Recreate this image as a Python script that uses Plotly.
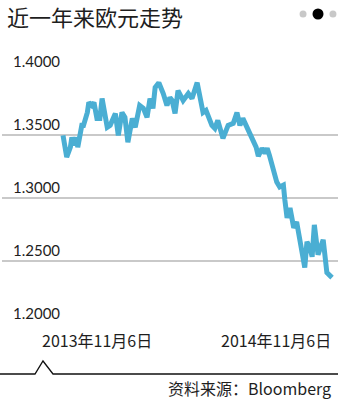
import pandas as pd
import plotly.graph_objects as go

# ---- data ----
start_date = "2013-11-06"
day_offsets = [0, 5, 10, 12, 15, 18, 20, 26, 27, 33, 35, 39, 42, 46, 50, 53, 60, 64, 71, 75,
               80, 84, 88, 94, 98, 104, 109, 114, 118, 122, 125, 130, 136, 141, 145, 148, 152,
               156, 163, 170, 175, 182, 190, 194, 202, 206, 210, 213, 217, 224, 231, 236, 240,
               244, 254, 262, 265, 270, 274, 277, 280, 285, 290, 294, 299, 301, 304, 308, 313,
               317, 324, 328, 331, 335, 338, 341, 346, 353, 358, 365]
eur_usd = [1.3496, 1.3323, 1.3402, 1.3480, 1.3417, 1.3480, 1.3402, 1.3591, 1.3559, 1.3677,
           1.3756, 1.3732, 1.3756, 1.3630, 1.3630, 1.3787, 1.3559, 1.3575, 1.3669, 1.3496,
           1.3677, 1.3638, 1.3441, 1.3630, 1.3559, 1.3732, 1.3709, 1.3638, 1.3787, 1.3709,
           1.3874, 1.3913, 1.3827, 1.3732, 1.3795, 1.3772, 1.3669, 1.3850, 1.3772, 1.3827,
           1.3787, 1.3913, 1.3677, 1.3693, 1.3575, 1.3551, 1.3614, 1.3559, 1.3472, 1.3575,
           1.3591, 1.3677, 1.3575, 1.3630, 1.3512, 1.3402, 1.3331, 1.3394, 1.3354, 1.3394,
           1.3339, 1.3244, 1.3126, 1.3087, 1.3102, 1.2984, 1.2843, 1.2921, 1.2764, 1.2811,
           1.2606, 1.2449, 1.2654, 1.2606, 1.2535, 1.2787, 1.2551, 1.2669, 1.2409, 1.2370]
y_ticks = [1.20, 1.25, 1.30, 1.35, 1.40]
y_tick_labels = ["1.2000", "1.2500", "1.3000", "1.3500", "1.4000"]
x_labels = ["2013年11月6日", "2014年11月6日"]
title_text = "近一年来欧元走势"
source_text = "资料来源：Bloomberg"

dates = pd.Timestamp(start_date) + pd.to_timedelta(day_offsets, unit="D")

LINE_COLOR = "#4aaed3"
GRID_COLOR = "#c9c9c9"
TEXT_COLOR = "#1e1e1e"
CJK = "Noto Sans CJK SC, Noto Sans, sans-serif"
NUM = "Lato, Open Sans, sans-serif"

fig = go.Figure()
fig.add_trace(go.Scatter(x=dates, y=eur_usd, mode="lines",
                         line=dict(color=LINE_COLOR, width=5),
                         hoverinfo="skip", showlegend=False))

s = pd.Timestamp(start_date)
x_range = [s - pd.Timedelta(days=82.8), s + pd.Timedelta(days=373.1)]

annotations = []
for v, t in zip(y_ticks, y_tick_labels):
    annotations.append(dict(x=0.027, y=v, xref="paper", yref="y", text=t, showarrow=False,
                            xanchor="left", yanchor="bottom", yshift=0,
                            font=dict(family=NUM, size=15, color=TEXT_COLOR)))
annotations.append(dict(x=0.113, y=-0.059, xref="paper", yref="paper", text=x_labels[0],
                        showarrow=False, xanchor="left", yanchor="middle",
                        font=dict(family=CJK, size=16, color=TEXT_COLOR)))
annotations.append(dict(x=0.985, y=-0.059, xref="paper", yref="paper", text=x_labels[1],
                        showarrow=False, xanchor="right", yanchor="middle",
                        font=dict(family=CJK, size=16, color=TEXT_COLOR)))
annotations.append(dict(x=0.985, y=-0.248, xref="paper", yref="paper", text=source_text,
                        showarrow=False, xanchor="right", yanchor="middle",
                        font=dict(family=CJK, size=16, color=TEXT_COLOR)))
# title as annotation
annotations.append(dict(x=0.008, y=1.2165, xref="paper", yref="paper", text=title_text,
                        showarrow=False, xanchor="left", yanchor="middle",
                        font=dict(family=CJK, size=22, color=TEXT_COLOR)))

shapes = [
    dict(type="path", xref="paper", yref="paper",
         path="M -0.01 -0.1929 L 0.0982 -0.1929 L 0.122 -0.1417 L 0.1518 -0.1929 L 1.0 -0.1929",
         line=dict(color="#111111", width=1.3)),
    dict(type="circle", xref="paper", yref="paper", x0=0.896 - 0.0104, x1=0.896 + 0.0104,
         y0=1.2244 - 0.0138, y1=1.2244 + 0.0138, fillcolor="#c8c8c8", line=dict(width=0)),
    dict(type="circle", xref="paper", yref="paper", x0=0.9405 - 0.0164, x1=0.9405 + 0.0164,
         y0=1.2244 - 0.0217, y1=1.2244 + 0.0217, fillcolor="#000000", line=dict(width=0)),
    dict(type="circle", xref="paper", yref="paper", x0=0.985 - 0.0104, x1=0.985 + 0.0104,
         y0=1.2244 - 0.0138, y1=1.2244 + 0.0138, fillcolor="#c8c8c8", line=dict(width=0)),
]

fig.update_layout(
    width=338, height=400,
    margin=dict(l=2, r=0, t=71, b=75),
    paper_bgcolor="white", plot_bgcolor="white",
    xaxis=dict(range=x_range, showgrid=False, zeroline=False, showticklabels=False,
               showline=False, ticks=""),
    yaxis=dict(range=[1.1995, 1.4005], tickvals=y_ticks, showticklabels=False,
               showgrid=True, gridcolor=GRID_COLOR, gridwidth=1.5, zeroline=False,
               showline=False, ticks=""),
    annotations=annotations,
    shapes=shapes,
    showlegend=False,
)

fig.write_html("out.html")
